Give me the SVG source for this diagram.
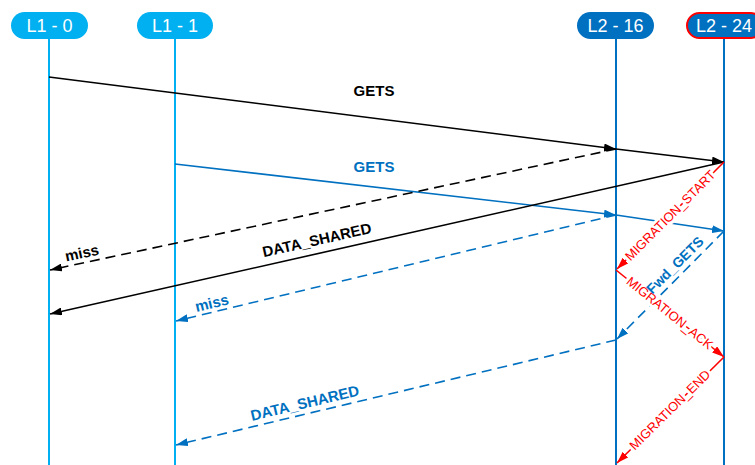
<svg xmlns="http://www.w3.org/2000/svg" width="755" height="465" viewBox="0 0 755 465">
<style>
.pill1{fill:#00B0F0}
.pill2{fill:#0070C0}
.ht{font-family:"Liberation Sans",Arial,sans-serif;font-size:18px;fill:#fff;text-anchor:middle}
.ll1{stroke:#00B0F0;stroke-width:2}
.ll2{stroke:#0070C0;stroke-width:2}
.lb{font-family:"Liberation Sans",Arial,sans-serif;font-size:15px;font-weight:bold;text-anchor:middle}
.lr{font-family:"Liberation Sans",Arial,sans-serif;font-size:13px;fill:#FF0000;text-anchor:middle;stroke:#fff;stroke-width:6;paint-order:stroke;stroke-linejoin:round}
.k{stroke:#000;stroke-width:1.6;fill:none}
.b{stroke:#0070C0;stroke-width:1.6;fill:none}
.r{stroke:#FF0000;stroke-width:1.6;fill:none}
.d{stroke-dasharray:10 6}
</style>
<defs>
<marker id="ak" viewBox="0 0 12 8" refX="12" refY="4" markerWidth="12" markerHeight="8" markerUnits="userSpaceOnUse" orient="auto"><path d="M0,0 L12,4 L0,8 z" fill="#000"/></marker>
<marker id="abl" viewBox="0 0 12 8" refX="12" refY="4" markerWidth="12" markerHeight="8" markerUnits="userSpaceOnUse" orient="auto"><path d="M0,0 L12,4 L0,8 z" fill="#0070C0"/></marker>
<marker id="ar" viewBox="0 0 12 8" refX="12" refY="4" markerWidth="12" markerHeight="8" markerUnits="userSpaceOnUse" orient="auto"><path d="M0,0 L12,4 L0,8 z" fill="#FF0000"/></marker>
</defs>

<g id="lifelines">
<line class="ll1" x1="49" y1="39" x2="49" y2="465"/>
<line class="ll1" x1="175" y1="39" x2="175" y2="465"/>
<line class="ll2" x1="616" y1="39" x2="616" y2="465"/>
<line class="ll2" x1="724" y1="39" x2="724" y2="465"/>
</g>

<g id="n-l1-0"><rect class="pill1" x="11" y="12" width="77" height="27" rx="13.5"/><text class="ht" x="49.5" y="32">L1 - 0</text></g>
<g id="n-l1-1"><rect class="pill1" x="137" y="12" width="76" height="27" rx="13.5"/><text class="ht" x="175" y="32">L1 - 1</text></g>
<g id="n-l2-16"><rect class="pill2" x="577" y="12" width="77" height="27" rx="13.5"/><text class="ht" x="615.5" y="32">L2 - 16</text></g>
<g id="n-l2-24"><rect class="pill2" x="687" y="13" width="76" height="25" rx="12.5" stroke="#FF0000" stroke-width="2"/><text class="ht" x="724" y="32">L2 - 24</text></g>

<g id="connectors">
<line class="k" x1="49" y1="77" x2="616" y2="149" marker-end="url(#ak)"/>
<line class="k" x1="616" y1="149" x2="724" y2="162" marker-end="url(#ak)"/>
<line class="b" x1="175" y1="164" x2="616" y2="215" marker-end="url(#abl)"/>
<line class="b" x1="616" y1="215" x2="724" y2="231" marker-end="url(#abl)"/>
<line class="k d" x1="616" y1="149" x2="50" y2="270" marker-end="url(#ak)"/>
<line class="k" x1="724" y1="162" x2="50" y2="314" marker-end="url(#ak)"/>
<line class="b d" x1="616" y1="215" x2="176" y2="321" marker-end="url(#abl)"/>
<line class="b d" x1="724" y1="231" x2="617" y2="339" marker-end="url(#abl)"/>
<line class="b d" x1="616" y1="340" x2="176" y2="445" marker-end="url(#abl)"/>
<line class="r" x1="724" y1="162" x2="617" y2="269" marker-end="url(#ar)"/>
<line class="r" x1="616" y1="270" x2="724" y2="357" marker-end="url(#ar)"/>
<line class="r" x1="724" y1="357" x2="617" y2="463" marker-end="url(#ar)"/>
</g>

<g id="labels">
<text class="lr" transform="translate(673.5,218.5) rotate(-45)">MIGRATION_START</text>
<text class="lr" transform="translate(667,316.5) rotate(39)">MIGRATION_ACK</text>
<text class="lr" transform="translate(673,413) rotate(-44.5)">MIGRATION_END</text>
<text class="lb" x="374" y="96" fill="#000">GETS</text>
<text class="lb" x="374" y="172" fill="#0070C0">GETS</text>
<text class="lb" fill="#000" transform="translate(318,245) rotate(-12.7)">DATA_SHARED</text>
<text class="lb" fill="#000" transform="translate(83,258) rotate(-12)">miss</text>
<text class="lb" fill="#0070C0" transform="translate(213,308) rotate(-13.6)">miss</text>
<text class="lb" fill="#0070C0" transform="translate(306,408) rotate(-13.4)">DATA_SHARED</text>
<text class="lb" fill="#0070C0" style="font-size:14px" transform="translate(678.5,268.5) rotate(-45)">Fwd_GETS</text>
</g>
</svg>
